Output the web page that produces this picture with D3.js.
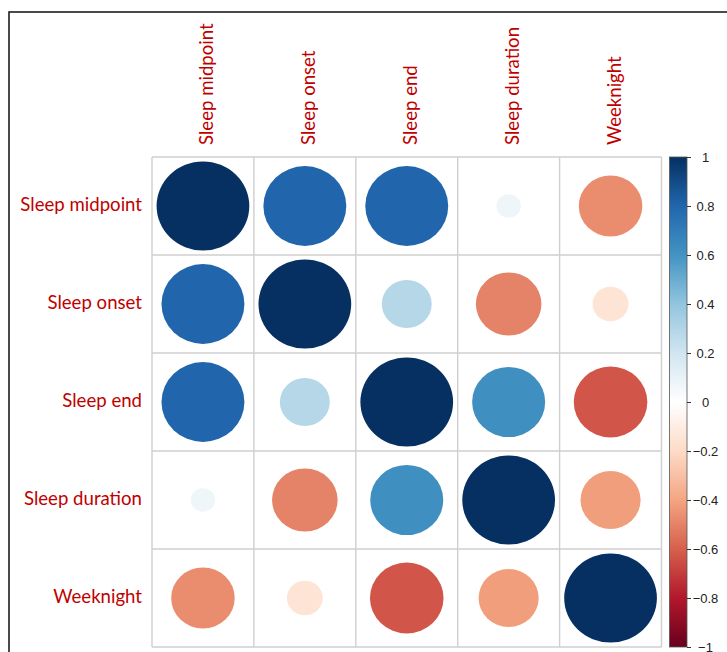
<!DOCTYPE html>
<html>
<head>
<meta charset="utf-8">
<script src="https://cdn.jsdelivr.net/npm/d3@7"></script>
<style>
  html, body { margin: 0; padding: 0; background: #fff; }
  svg { display: block; }
</style>
</head>
<body>
<svg id="chart" width="727" height="652"></svg>
<script>
// Variables shown on both axes
const variables = ["Sleep midpoint", "Sleep onset", "Sleep end", "Sleep duration", "Weeknight"];

// Correlation matrix, one row per variable
const rowMidpoint = [1.00, 0.80, 0.80, 0.07, -0.47];
const rowOnset    = [0.80, 1.00, 0.29, -0.50, -0.15];
const rowEnd      = [0.80, 0.29, 1.00, 0.62, -0.63];
const rowDuration = [0.07, -0.50, 0.62, 1.00, -0.42];
const rowWeeknight= [-0.47, -0.15, -0.63, -0.42, 1.00];
const corrRows = [rowMidpoint, rowOnset, rowEnd, rowDuration, rowWeeknight];

// Colour legend ticks
const legendTicks = [-1, -0.8, -0.6, -0.4, -0.2, 0, 0.2, 0.4, 0.6, 0.8, 1];

// Diverging red-blue palette stops from -1 to 1
const paletteStops = ["#67001F", "#B2182B", "#D6604D", "#F4A582", "#FDDBC7", "#FFFFFF",
                      "#D1E5F0", "#92C5DE", "#4393C3", "#2166AC", "#053061"];

const svg = d3.select("#chart");

// Outer frame
svg.append("rect")
  .attr("x", 9).attr("y", 12)
  .attr("width", 760).attr("height", 700)
  .attr("fill", "none")
  .attr("stroke", "#1e1e1e")
  .attr("stroke-width", 1.6);

const gridLeft = 152, gridRight = 661.5, gridTop = 157, gridBottom = 647;

const x = d3.scaleBand().domain(variables).range([gridLeft, gridRight]);
const y = d3.scaleBand().domain(variables).range([gridTop, gridBottom]);

const color = d3.scaleLinear()
  .domain(legendTicks)
  .range(paletteStops)
  .interpolate(d3.interpolateRgb);

// Flatten matrix into cells
const cells = [];
corrRows.forEach((row, i) => {
  row.forEach((v, j) => {
    cells.push({ row: variables[i], col: variables[j], value: v });
  });
});

// Grid lines
const grid = svg.append("g").attr("stroke", "#cfcfcf").attr("stroke-width", 1.4);
const xEdges = variables.map(v => x(v)).concat([gridRight]);
const yEdges = variables.map(v => y(v)).concat([gridBottom]);
xEdges.forEach(px => {
  grid.append("line").attr("x1", px).attr("x2", px).attr("y1", gridTop).attr("y2", gridBottom);
});
yEdges.forEach(py => {
  grid.append("line").attr("x1", gridLeft).attr("x2", gridRight).attr("y1", py).attr("y2", py);
});

// Circles: area proportional to |r|
const sizeFrac = 0.455;
svg.append("g").selectAll("ellipse")
  .data(cells)
  .join("ellipse")
  .attr("cx", d => x(d.col) + x.bandwidth() / 2)
  .attr("cy", d => y(d.row) + y.bandwidth() / 2)
  .attr("rx", d => sizeFrac * x.bandwidth() * Math.sqrt(Math.abs(d.value)))
  .attr("ry", d => sizeFrac * y.bandwidth() * Math.sqrt(Math.abs(d.value)))
  .attr("fill", d => color(d.value));

const labelColor = "#C00000";
const labelFont = "Lato, 'Open Sans', sans-serif";
const labelSize = "18.6px";

// Row labels
svg.append("g").selectAll("text")
  .data(variables)
  .join("text")
  .attr("x", 142)
  .attr("y", d => y(d) + y.bandwidth() / 2 - 2)
  .attr("text-anchor", "end")
  .attr("dominant-baseline", "central")
  .attr("font-family", labelFont)
  .attr("font-size", labelSize)
  .attr("fill", labelColor)
  .text(d => d);

// Column labels, rotated
svg.append("g").selectAll("text")
  .data(variables)
  .join("text")
  .attr("transform", d => `translate(${x(d) + x.bandwidth() / 2 + 3},145) rotate(-90)`)
  .attr("text-anchor", "start")
  .attr("dominant-baseline", "central")
  .attr("font-family", labelFont)
  .attr("font-size", labelSize)
  .attr("fill", labelColor)
  .text(d => d);

// Colour legend
const legX = 669.5, legW = 17.5;
const legScale = d3.scaleLinear().domain([-1, 1]).range([gridBottom, gridTop]);

const defs = svg.append("defs");
const grad = defs.append("linearGradient")
  .attr("id", "legendGrad")
  .attr("x1", "0").attr("y1", "1").attr("x2", "0").attr("y2", "0");
grad.selectAll("stop")
  .data(legendTicks)
  .join("stop")
  .attr("offset", d => (d + 1) / 2)
  .attr("stop-color", d => color(d));

svg.append("rect")
  .attr("x", legX).attr("y", gridTop)
  .attr("width", legW).attr("height", gridBottom - gridTop)
  .attr("fill", "url(#legendGrad)")
  .attr("stroke", "#555")
  .attr("stroke-width", 0.8);

const legAxis = d3.axisRight(legScale)
  .tickValues(legendTicks)
  .tickSize(4)
  .tickFormat(d => d3.format("")(d));

const axisG = svg.append("g")
  .attr("transform", `translate(${legX + legW},0)`)
  .call(legAxis);
axisG.select(".domain").remove();
axisG.selectAll(".tick line").attr("stroke", "#333");
axisG.selectAll(".tick text")
  .attr("x", 18.5)
  .attr("text-anchor", "middle")
  .attr("font-family", "'Liberation Sans', Arial, sans-serif")
  .attr("font-size", "13px")
  .attr("fill", "#222");
</script>
</body>
</html>
